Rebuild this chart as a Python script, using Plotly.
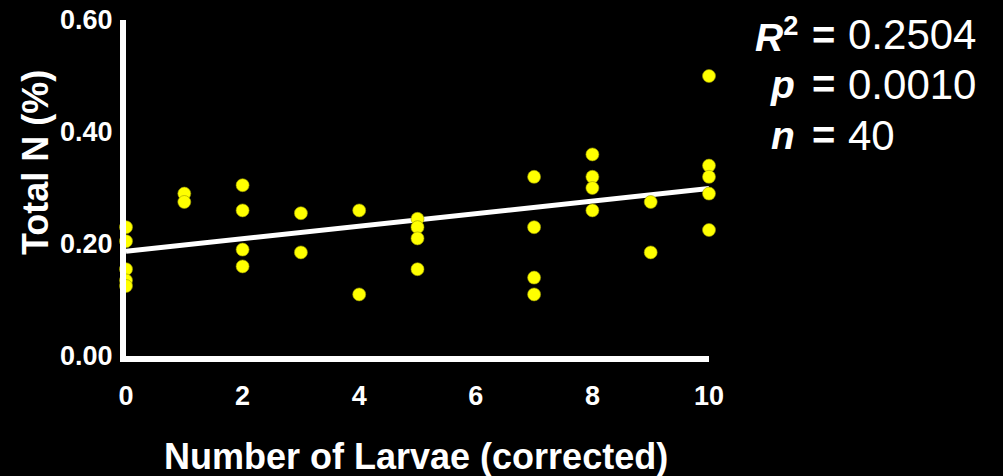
import plotly.graph_objects as go

# ---- data ----
larvae = [0, 0, 0, 0, 0,
          1, 1,
          2, 2, 2, 2,
          3, 3,
          4, 4,
          5, 5, 5, 5,
          7, 7, 7, 7,
          8, 8, 8, 8,
          9, 9,
          10, 10, 10, 10, 10]
total_n = [0.23, 0.205, 0.155, 0.135, 0.125,
           0.29, 0.275,
           0.305, 0.26, 0.19, 0.16,
           0.255, 0.185,
           0.26, 0.11,
           0.245, 0.23, 0.21, 0.155,
           0.32, 0.23, 0.14, 0.11,
           0.36, 0.32, 0.30, 0.26,
           0.275, 0.185,
           0.50, 0.34, 0.32, 0.29, 0.225]
trend_x = [0, 10]
trend_y = [0.187, 0.299]
x_ticks = [0, 2, 4, 6, 8, 10]
x_tick_labels = ["0", "2", "4", "6", "8", "10"]
y_ticks = [0.0, 0.2, 0.4, 0.6]
y_tick_labels = ["0.00", "0.20", "0.40", "0.60"]
stat_labels = ["<b><i>R</i><sup>2</sup></b>", "<b><i>p</i></b>", "<b><i>n</i></b>"]
stat_values = ["0.2504", "0.0010", "40"]

W, H = 1003, 476
L, R, T, B = 126, 709, 20, 356

def px(x):
    return (x - L) / (R - L)

def py(y):
    return (B - y) / (B - T)

fig = go.Figure()
fig.add_trace(go.Scatter(x=trend_x, y=trend_y, mode="lines",
                         line=dict(color="white", width=5),
                         cliponaxis=False, hoverinfo="skip"))
fig.add_trace(go.Scatter(x=larvae, y=total_n, mode="markers",
                         marker=dict(color="#FFFF00", size=13,
                                     line=dict(color="#9a9a00", width=0.6)),
                         cliponaxis=False))

font_family = "Liberation Sans, Arial, sans-serif"

annotations = []
# stats text
centers = [35, 84, 135]
label_right = [800, 797, 797]
for lab, val, yc, xr in zip(stat_labels, stat_values, centers, label_right):
    annotations.append(dict(text=lab, x=px(xr), y=py(yc), xref="paper", yref="paper",
                            xanchor="right", yanchor="middle", showarrow=False,
                            font=dict(family=font_family, size=39, color="white")))
    annotations.append(dict(text="<b>=</b>", x=px(823), y=py(yc), xref="paper", yref="paper",
                            xanchor="center", yanchor="middle", showarrow=False,
                            font=dict(family=font_family, size=40, color="white")))
    annotations.append(dict(text=val, x=px(846), y=py(yc), xref="paper", yref="paper",
                            xanchor="left", yanchor="middle", showarrow=False,
                            font=dict(family=font_family, size=42, color="white")))
# axis titles
annotations.append(dict(text="<b>Number of Larvae (corrected)</b>", x=px(416), y=py(456),
                        xref="paper", yref="paper", xanchor="center", yanchor="middle",
                        showarrow=False,
                        font=dict(family=font_family, size=36, color="white")))
annotations.append(dict(text="<b>Total N (%)</b>", x=px(35), y=py(163),
                        xref="paper", yref="paper", xanchor="center", yanchor="middle",
                        textangle=-90, showarrow=False,
                        font=dict(family=font_family, size=36, color="white")))

fig.update_layout(
    width=W, height=H,
    margin=dict(l=L, r=W - R, t=T, b=H - B, pad=0, autoexpand=False),
    paper_bgcolor="black", plot_bgcolor="black",
    showlegend=False,
    annotations=annotations,
    xaxis=dict(range=[0, 10], tickvals=x_ticks,
               ticktext=["<b>%s</b>" % t for t in x_tick_labels],
               showgrid=False, zeroline=False, automargin=False,
               showline=True, linecolor="white", linewidth=6,
               ticks="outside", ticklen=11, tickcolor="black",
               tickfont=dict(family=font_family, size=27, color="white")),
    yaxis=dict(range=[0, 0.6], tickvals=y_ticks,
               ticktext=["<b>%s</b>" % t for t in y_tick_labels],
               showgrid=False, zeroline=False, automargin=False,
               showline=True, linecolor="white", linewidth=6,
               ticks="outside", ticklen=2, tickcolor="black",
               tickfont=dict(family=font_family, size=27, color="white")),
)

fig.write_html("out.html")
